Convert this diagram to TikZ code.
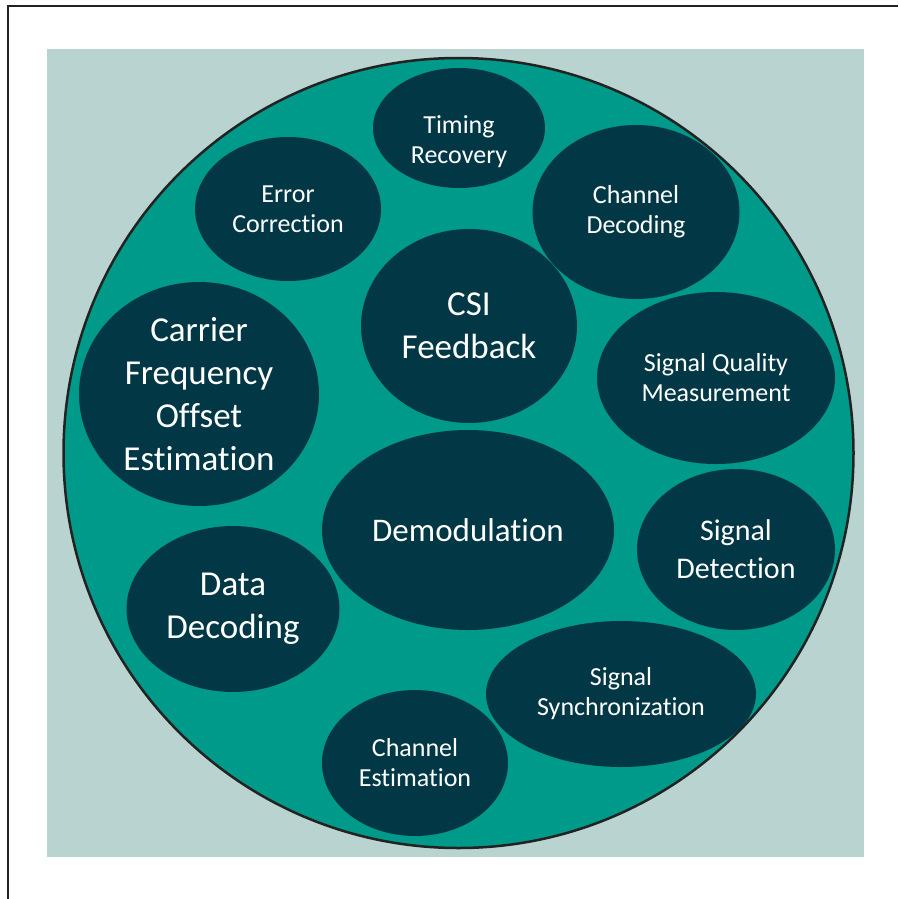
\documentclass[tikz,border=0pt]{standalone}
\usepackage{fontspec}
\setmainfont{Carlito}[Ligatures={NoCommon,NoContextual}]
\usetikzlibrary{shapes.geometric}
\definecolor{paleback}{HTML}{B8D3D0}
\definecolor{tealfill}{HTML}{009A8A}
\definecolor{darkblob}{HTML}{023846}
\definecolor{rimline}{HTML}{222222}
\tikzset{
  blob/.style={ellipse, fill=darkblob, draw=none, inner sep=0pt,
    text=white, align=center},
  label text/.style={text=white, align=center, inner sep=0pt},
  smalltxt/.style={font=\fontsize{26}{30}\selectfont},
  bigtxt/.style={font=\fontsize{35}{43}\selectfont},
  demodtxt/.style={font=\fontsize{33}{40}\selectfont},
  midtxt/.style={font=\fontsize{30}{38}\selectfont},
}
\begin{document}
\begin{tikzpicture}[x=1pt,y=-1pt]
  \useasboundingbox (0,0) rectangle (898,899);
  % page frame
  \draw[line width=2pt, rimline] (8,899) -- (8,6) -- (898,6);
  % pale square behind the disc
  \fill[paleback] (47,49) rectangle (864,857);
  % main disc
  \node[circle, fill=tealfill, draw=rimline, line width=2.5pt,
        minimum size=790pt, inner sep=0pt] (disc) at (458.5,453) {};
  % functional blocks
  \node[blob, minimum width=172pt, minimum height=120pt] (timing) at (459,128) {};
  \node[label text, smalltxt] (timingtxt) at (459,142) {Timing\\Recovery};
  \node[blob, smalltxt, minimum width=186pt, minimum height=144pt] (errcorr) at (288,209) {Error\\Correction};
  \node[blob, smalltxt, minimum width=207pt, minimum height=174pt] (chdec) at (636,212) {Channel\\Decoding};
  \node[blob, bigtxt, minimum width=216pt, minimum height=194pt] (csi) at (469,326) {CSI\\Feedback};
  \node[blob, bigtxt, minimum width=240pt, minimum height=224pt] (cfo) at (199,394) {Carrier\\Frequency\\Offset\\Estimation};
  \node[blob, smalltxt, minimum width=238pt, minimum height=172pt] (sqm) at (716,378) {Signal Quality\\Measurement};
  \node[blob, demodtxt, minimum width=292pt, minimum height=200pt] (demod) at (468,530) {Demodulation};
  \node[blob, midtxt, minimum width=198pt, minimum height=161pt] (sigdet) at (736,549.5) {Signal\\Detection};
  \node[blob, bigtxt, minimum width=213pt, minimum height=166pt] (datadec) at (233,609) {Data\\Decoding};
  \node[blob, smalltxt, minimum width=270pt, minimum height=146pt] (sync) at (621,694) {Signal\\Synchronization};
  \node[blob, smalltxt, minimum width=186pt, minimum height=146pt] (chest) at (415,763) {Channel\\Estimation};
\end{tikzpicture}
\end{document}
